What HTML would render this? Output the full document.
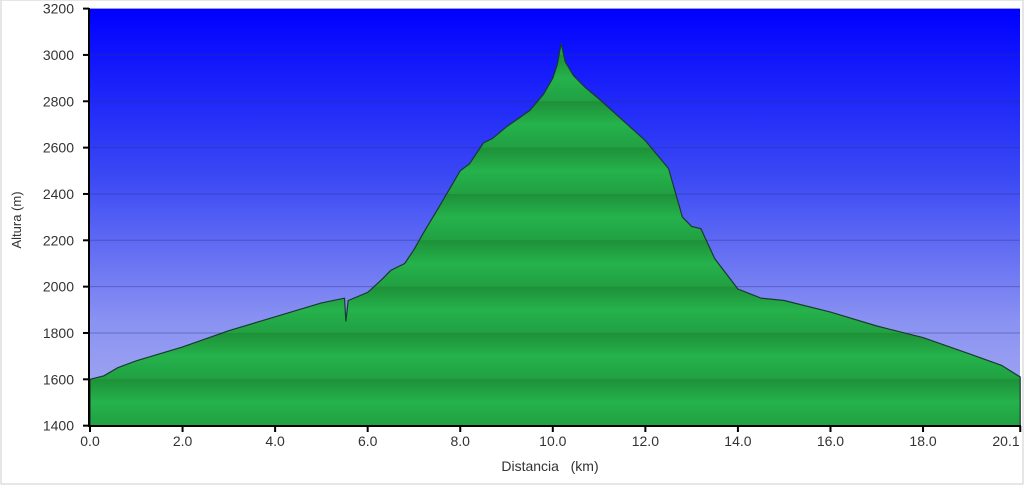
<!DOCTYPE html>
<html><head><style>
body{margin:0;background:#fff;width:1024px;height:487px;overflow:hidden;font-family:"Liberation Sans",sans-serif}
</style></head><body>
<svg width="1024" height="487" xmlns="http://www.w3.org/2000/svg" font-family="Liberation Sans, sans-serif">
<defs>
<linearGradient id="sky" x1="0" y1="0" x2="0" y2="1">
<stop offset="0" stop-color="#0000ff"/><stop offset="0.4" stop-color="#3a48f4"/><stop offset="0.75" stop-color="#8a92f2"/><stop offset="1" stop-color="#a8aef0"/>
</linearGradient>
<pattern id="bands" patternUnits="userSpaceOnUse" x="0" y="8.6" width="1024" height="46.33">
<rect width="1024" height="46.33" fill="#22a848"/>
<linearGradient id="bg2" x1="0" y1="0" x2="0" y2="1"><stop offset="0" stop-color="#1e9038"/><stop offset="0.5" stop-color="#25b24c"/><stop offset="1" stop-color="#21a042"/></linearGradient>
<rect width="1024" height="46.33" fill="url(#bg2)"/>
</pattern>
</defs>
<rect x="1" y="0" width="1022" height="484" fill="none" stroke="#ccc"/>
<rect x="90" y="8.6" width="930" height="417" fill="url(#sky)"/>
<g stroke="#2a2f80" stroke-opacity="0.4" stroke-width="1">
<line x1="90" x2="1020" y1="55" y2="55"/><line x1="90" x2="1020" y1="101.3" y2="101.3"/><line x1="90" x2="1020" y1="147.6" y2="147.6"/><line x1="90" x2="1020" y1="194" y2="194"/><line x1="90" x2="1020" y1="240.3" y2="240.3"/><line x1="90" x2="1020" y1="286.6" y2="286.6"/><line x1="90" x2="1020" y1="333" y2="333"/><line x1="90" x2="1020" y1="379.3" y2="379.3"/>
</g>
<polygon id="prof" fill="url(#bands)" stroke="#1a3a30" stroke-width="1.2" points=""/>
<line x1="89" y1="8" x2="89" y2="427" stroke="#000" stroke-width="2"/>
<line x1="88" y1="426" x2="1021" y2="426" stroke="#000" stroke-width="2"/>
<g id="ticks" stroke="#000" stroke-width="2"></g>
<g id="yl" font-size="14" fill="#333" text-anchor="end"></g>
<g id="xl" font-size="14" fill="#333" text-anchor="middle"></g>
<text x="550" y="471" font-size="14" fill="#333" text-anchor="middle" xml:space="preserve">Distancia   (km)</text>
<text transform="translate(21,220) rotate(-90)" font-size="13" fill="#333" text-anchor="middle">Altura (m)</text>
</svg>
<script>
var d=[[0,1600],[0.3,1615],[0.6,1650],[1,1680],[2,1740],[3,1810],[4,1870],[5,1930],[5.5,1950],[5.53,1850],[5.58,1940],[6,1975],[6.3,2030],[6.5,2070],[6.8,2100],[7,2160],[7.2,2230],[7.5,2330],[8,2500],[8.2,2530],[8.5,2620],[8.7,2640],[9,2690],[9.5,2760],[9.8,2830],[10,2900],[10.1,2960],[10.18,3050],[10.27,2970],[10.45,2910],[10.7,2860],[11,2810],[12,2630],[12.5,2510],[12.8,2300],[13,2260],[13.2,2250],[13.5,2120],[14,1990],[14.5,1950],[15,1940],[16,1890],[17,1830],[18,1780],[19,1710],[19.7,1660],[20.1,1610]];
function X(k){return 90+k*46.28}function Y(e){return 8.6+(3200-e)*0.2317}
var p=d.map(function(a){return X(a[0]).toFixed(1)+","+Y(a[1]).toFixed(1)});
p.push(X(20.1)+",426");p.unshift("90,426");
document.getElementById("prof").setAttribute("points",p.join(" "));
var ns="http://www.w3.org/2000/svg",t=document.getElementById("ticks"),yl=document.getElementById("yl"),xl=document.getElementById("xl");
for(var e=1400;e<=3200;e+=200){var y=Y(e);var l=document.createElementNS(ns,"line");l.setAttribute("x1",83);l.setAttribute("x2",89);l.setAttribute("y1",y);l.setAttribute("y2",y);t.appendChild(l);
var tx=document.createElementNS(ns,"text");tx.setAttribute("x",74);tx.setAttribute("y",y+5);tx.textContent=e;yl.appendChild(tx);}
var xs=[0,2,4,6,8,10,12,14,16,18,20.1];xs.forEach(function(k){var x=X(k);var l=document.createElementNS(ns,"line");l.setAttribute("x1",x);l.setAttribute("x2",x);l.setAttribute("y1",426);l.setAttribute("y2",432);t.appendChild(l);
var tx=document.createElementNS(ns,"text");tx.setAttribute("x",k>20?1006:x);tx.setAttribute("y",446);tx.textContent=k.toFixed(1);xl.appendChild(tx);});
</script>
</body></html>
